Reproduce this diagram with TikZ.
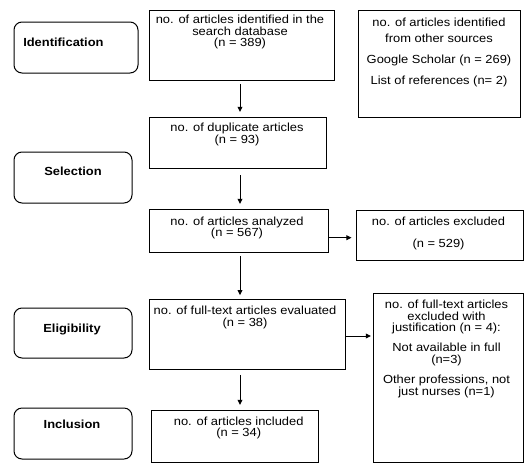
\documentclass[tikz,border=0pt]{standalone}
\usepackage{fontspec}
\setmainfont[FakeStretch=1.1]{Liberation Sans}
\usetikzlibrary{arrows.meta,fit}
\begin{document}
\begin{tikzpicture}[x=0.75pt,y=-0.75pt,
  box/.style={draw, line width=0.75pt, inner sep=0pt},
  phase/.style={box, rounded corners=6pt},
  txt/.style={inner sep=0pt, align=center, font=\fontsize{8.8}{8.8}\selectfont, anchor=north},
  lbl/.style={inner sep=0pt, font=\fontsize{8.8}{8.8}\selectfont\bfseries, anchor=mid},
  arr/.style={-{Triangle[length=3.8pt,width=3.6pt]}, line width=0.75pt}]
\useasboundingbox[fill=white] (0,0) rectangle (527,471);

% phase boxes
\node[phase, fit={(14,22)(138,73)}] (p1) {};
\node[lbl, anchor=mid west] (p1t) at (23,43) {Identification};
\node[phase, fit={(14,152)(132,203)}] (p2) {};
\node[lbl] (p2t) at (73,172) {Selection};
\node[phase, fit={(14,308)(132,358)}] (p3) {};
\node[lbl] (p3t) at (72,329) {Eligibility};
\node[phase, fit={(14,408)(132,459)}] (p4) {};
\node[lbl] (p4t) at (72,425) {Inclusion};

% main boxes
\node[box, fit={(149,10)(334,80)}] (b1) {};
\node[txt] (b1t) at (240,14.7) {no. of articles identified in the\\search database\\(n = 389)};
\node[box, fit={(358,10)(520,117)}] (s) {};
\node[txt] (st) at (439,17.4) {no. of articles identified\\[3.7pt]from other sources\\[6.7pt]Google Scholar (n = 269)\\[7pt]List of references (n= 2)};
\node[box, fit={(149,117)(326,168)}] (b2) {};
\node[txt] (b2t) at (237,123) {no. of duplicate articles\\(n = 93)};
\node[box, fit={(149,209)(328,252)}] (b3) {};
\node[txt] (b3t) at (237,216.4) {no. of articles analyzed\\(n = 567)};
\node[box, fit={(356,210)(523,260)}] (e1) {};
\node[txt] (e1t) at (438.5,216.4) {no. of articles excluded\\[7.9pt](n = 529)};
\node[box, fit={(149,299)(345,369)}] (b4) {};
\node[txt] (b4t) at (245,305.7) {no. of full-text articles evaluated\\(n = 38)};
\node[box, fit={(151,410)(318,462)}] (b5) {};
\node[txt] (b5t) at (238.7,416.4) {no. of articles included\\(n = 34)};
\node[box, fit={(373,293)(523,462)}] (e2) {};
\node[txt] (e2t) at (446.5,299.7) {no. of full-text articles\\excluded with\\justification (n = 4):\\[6.2pt]Not available in full\\(n=3)\\[6.2pt]Other professions, not\\just nurses (n=1)};

% connectors
\coordinate (ax) at (240,0);
\coordinate (h1) at (0,237.7);
\coordinate (h2) at (0,336);
\draw[arr, shorten <=2.5pt, shorten >=3.5pt] (b1.south -| ax) -- (b2.north -| ax);
\draw[arr, shorten <=5pt, shorten >=3.5pt] (b2.south -| ax) -- (b3.north -| ax);
\draw[arr, shorten <=2.5pt, shorten >=2.5pt] (b3.south -| ax) -- (b4.north -| ax);
\draw[arr, shorten <=4pt, shorten >=3.5pt] (b4.south -| ax) -- (b5.north -| ax);
\draw[arr, shorten >=3pt] (b3.east |- h1) -- (e1.west |- h1);
\draw[arr, shorten >=1.2pt] (b4.east |- h2) -- (e2.west |- h2);
\end{tikzpicture}
\end{document}
